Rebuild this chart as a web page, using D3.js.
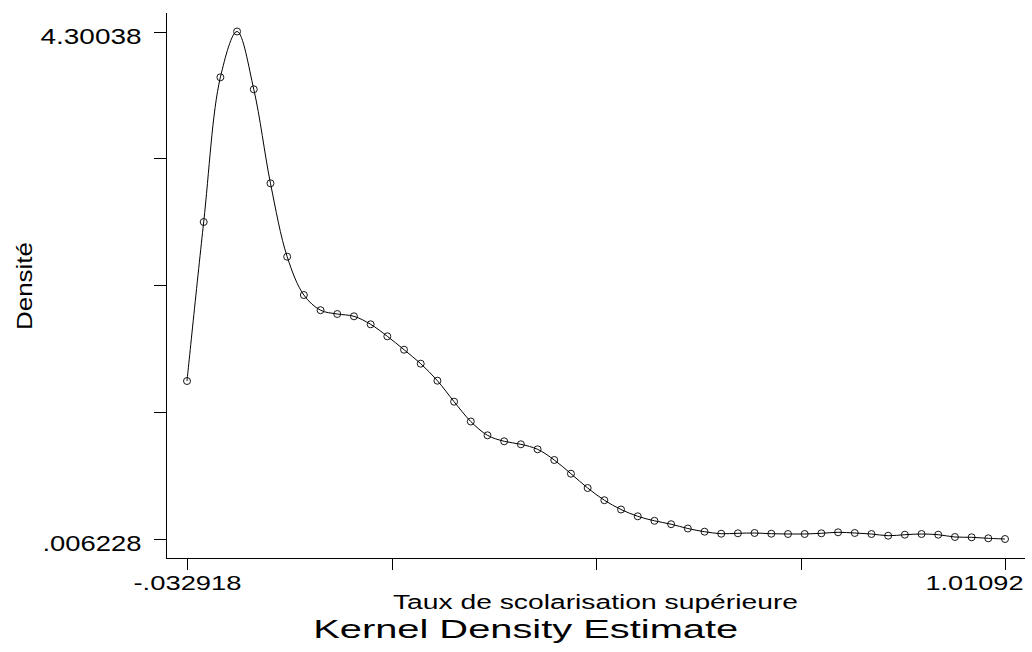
<!DOCTYPE html>
<html>
<head>
<meta charset="utf-8">
<script src="https://cdn.jsdelivr.net/npm/d3@7"></script>
<style>
  html, body { margin: 0; padding: 0; background: #fff; }
  svg { display: block; font-family: "Liberation Sans", Arial, Helvetica, sans-serif; }
</style>
</head>
<body>
<script>
// ---- Data ----
const taux = [
  -0.032918, -0.011615, 0.009688, 0.030990, 0.052293, 0.073596, 0.094899, 0.116202, 0.137505, 0.158807,
  0.180110, 0.201413, 0.222716, 0.244019, 0.265322, 0.286624, 0.307927, 0.329230, 0.350533, 0.371836,
  0.393139, 0.414441, 0.435744, 0.457047, 0.478350, 0.499653, 0.520955, 0.542258, 0.563561, 0.584864,
  0.606167, 0.627469, 0.648772, 0.670075, 0.691378, 0.712681, 0.733984, 0.755286, 0.776589, 0.797892,
  0.819195, 0.840498, 0.861800, 0.883103, 0.904406, 0.925709, 0.947012, 0.968314, 0.989617, 1.010920
];
const densite = [
  1.3431, 2.6885, 3.9128, 4.30038, 3.8113, 3.0159, 2.3949, 2.0708, 1.9422, 1.9100,
  1.8906, 1.8229, 1.7213, 1.6079, 1.4895, 1.3456, 1.1680, 1.0004, 0.8836, 0.8329,
  0.8075, 0.7652, 0.6747, 0.5587, 0.4377, 0.3345, 0.2558, 0.1983, 0.1602, 0.1314,
  0.0950, 0.0680, 0.0510, 0.0544, 0.0570, 0.0510, 0.0485, 0.0485, 0.0544, 0.0629,
  0.0570, 0.0485, 0.0341, 0.0426, 0.0485, 0.0426, 0.0231, 0.0206, 0.0121, 0.006228
];
const xTickValues = [-0.032918, 0.228042, 0.489001, 0.749961, 1.01092];
const xTickLabels = ["-.032918", "", "", "", "1.01092"];
const yTickValues = [0.006228, 1.079766, 2.153304, 3.226842, 4.30038];
const yTickLabels = [".006228", "", "", "", "4.30038"];
const xTitle = "Taux de scolarisation supérieure";
const yTitle = "Densité";
const mainTitle = "Kernel Density Estimate";

// ---- Layout ----
const W = 1032, H = 652;
const labelWidths = { "4.30038": 101, ".006228": 99, "-.032918": 108, "1.01092": 98 };

const svg = d3.select("body").append("svg").attr("width", W).attr("height", H);

const x = d3.scaleLinear().domain([xTickValues[0], xTickValues[4]]).range([187, 1005]);
const y = d3.scaleLinear().domain([yTickValues[0], yTickValues[4]]).range([539, 31.5]);

// axis lines (extend beyond data range like the reference)
svg.append("line")
  .attr("x1", 166.5).attr("x2", 166.5).attr("y1", 13).attr("y2", 558.5)
  .attr("stroke", "#000").attr("stroke-width", 1);
svg.append("line")
  .attr("x1", 166).attr("x2", 1025).attr("y1", 558.5).attr("y2", 558.5)
  .attr("stroke", "#000").attr("stroke-width", 1);

// Y axis
const gy = svg.append("g").attr("transform", "translate(166.5,0)")
  .call(d3.axisLeft(y).tickValues(yTickValues)
    .tickFormat((d, i) => yTickLabels[i]).tickSize(13).tickPadding(12));
gy.select(".domain").remove();
gy.selectAll(".tick line").attr("stroke", "#000").attr("shape-rendering", "crispEdges");
gy.selectAll(".tick text")
  .attr("dy", 11.5)
  .attr("fill", "#000")
  .style("font-size", "22px")
  .style("font-family", "'Liberation Sans', Arial, sans-serif")
  .each(function () {
    const t = d3.select(this).text();
    if (labelWidths[t]) d3.select(this).attr("textLength", labelWidths[t]).attr("lengthAdjust", "spacingAndGlyphs");
  });

// X axis
const gx = svg.append("g").attr("transform", "translate(0,558.5)")
  .call(d3.axisBottom(x).tickValues(xTickValues)
    .tickFormat((d, i) => xTickLabels[i]).tickSize(11));
gx.select(".domain").remove();
gx.selectAll(".tick line").attr("stroke", "#000").attr("shape-rendering", "crispEdges");
gx.selectAll(".tick text")
  .attr("y", 31.5).attr("dy", 0)
  .attr("fill", "#000")
  .style("font-size", "21px")
  .style("font-family", "'Liberation Sans', Arial, sans-serif")
  .each(function (d, i) {
    const sel = d3.select(this);
    const t = sel.text();
    if (labelWidths[t]) sel.attr("textLength", labelWidths[t]).attr("lengthAdjust", "spacingAndGlyphs");
    if (i === xTickValues.length - 1) sel.attr("text-anchor", "end").attr("x", 18);
  });

// density curve
const pts = taux.map((t, i) => [t, densite[i]]);
svg.append("path")
  .datum(pts)
  .attr("fill", "none")
  .attr("stroke", "#000")
  .attr("stroke-width", 1)
  .attr("d", d3.line().x(d => x(d[0])).y(d => y(d[1])).curve(d3.curveCatmullRom.alpha(0.5)));

// markers
svg.append("g").selectAll("circle")
  .data(pts).join("circle")
  .attr("cx", d => x(d[0]))
  .attr("cy", d => y(d[1]))
  .attr("r", 3.5)
  .attr("fill", "none")
  .attr("stroke", "#000")
  .attr("stroke-width", 0.9);

// titles
svg.append("text")
  .attr("transform", "translate(31.5,286) rotate(-90)")
  .attr("text-anchor", "middle")
  .style("font-size", "22px")
  .attr("textLength", 88).attr("lengthAdjust", "spacingAndGlyphs")
  .text(yTitle);

svg.append("text")
  .attr("x", 595.5).attr("y", 609)
  .attr("text-anchor", "middle")
  .style("font-size", "20px")
  .attr("textLength", 405).attr("lengthAdjust", "spacingAndGlyphs")
  .text(xTitle);

svg.append("text")
  .attr("x", 525.7).attr("y", 638)
  .attr("text-anchor", "middle")
  .style("font-size", "26px")
  .attr("textLength", 425).attr("lengthAdjust", "spacingAndGlyphs")
  .text(mainTitle);
</script>
</body>
</html>
